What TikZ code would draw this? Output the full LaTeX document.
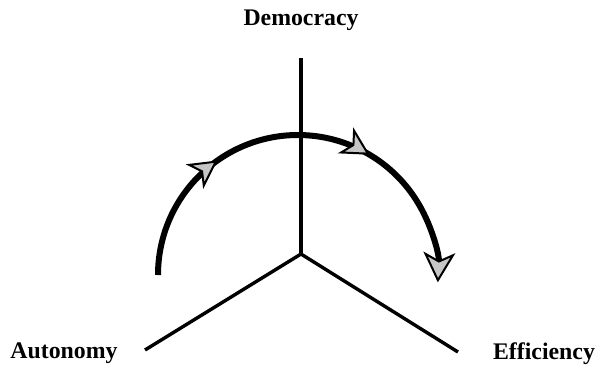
\documentclass[tikz,border=0pt]{standalone}
\usepackage{fontspec}
\setmainfont{Liberation Serif}
\usetikzlibrary{arrows.meta,decorations.markings}
\begin{document}
\begin{tikzpicture}[x=0.5pt,y=-0.5pt,
  axisline/.style={line width=1.7pt},
  lab/.style={font=\fontsize{11.9}{14}\selectfont\bfseries, inner sep=0pt, anchor=base},
  flowarc/.style={line width=3pt,
    -{Stealth[length=15pt,width=16pt,inset=4pt,fill=gray!45,line width=1pt]},
    decoration={markings,
      mark=at position 0.30 with {\arrow{Stealth[length=14pt,width=15pt,inset=4pt,fill=gray!45,line width=1pt]}},
      mark=at position 0.66 with {\arrow{Stealth[length=14pt,width=15pt,inset=4pt,fill=gray!45,line width=1pt]}}},
    postaction={decorate}}]
\useasboundingbox (0,0) rectangle (601,371);
\coordinate (O) at (301,254);
\coordinate (T) at (301,58);
\coordinate (L) at (145,350);
\coordinate (R) at (458,352);
\coordinate (C) at (298,277);
\draw[axisline] (T) -- (O);
\draw[axisline] (L) -- (O) -- (R);
\draw[flowarc] ([shift={(-140,-2)}]C) arc[start angle=180,end angle=363,radius=140];
\node[lab] (dem) at (301,25) {Democracy};
\node[lab] (aut) at (64,358) {Autonomy};
\node[lab] (eff) at (544,359) {Efficiency};
\end{tikzpicture}
\end{document}
